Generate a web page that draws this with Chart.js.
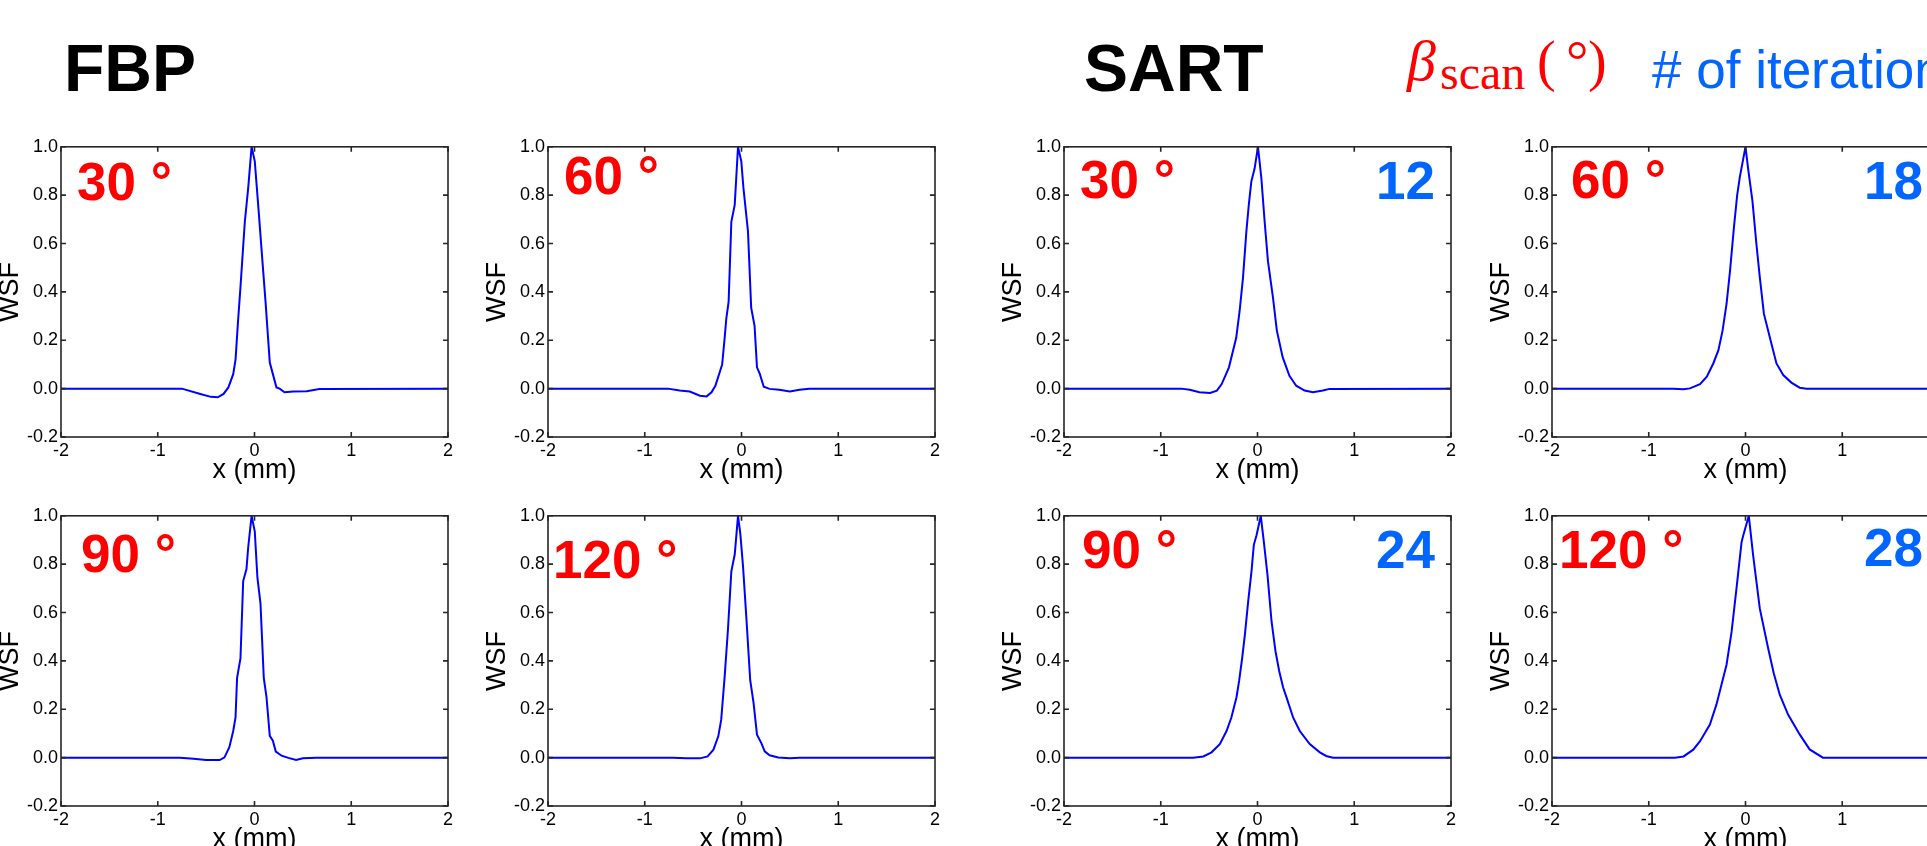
<!DOCTYPE html>
<html lang="en">
<head>
<meta charset="UTF-8">
<title>WSF profiles: FBP vs SART</title>
<script src="https://cdn.jsdelivr.net/npm/chart.js@4"></script>
<style>
    html, body { margin: 0; padding: 0; width: 1927px; height: 846px; overflow: hidden; background: #fff; }
    canvas { position: absolute; }
    .txt { position: absolute; white-space: nowrap; line-height: 1; }
</style>
</head>
<body>
<script>
    // ---- data ----
    const xTickLabels = ['-2', '-1', '0', '1', '2'];
    const yTickLabels = ['-0.2', '0.0', '0.2', '0.4', '0.6', '0.8', '1.0'];
    const scanAngles = ['30 °', '60 °', '90 °', '120 °'];
    const sartIterations = ['12', '18', '24', '28'];

    // FBP
    const fbp30X = [-2, -0.75, -0.56, -0.45, -0.38, -0.32, -0.27, -0.22, -0.196, -0.17, -0.145, -0.10, -0.065, -0.03, 0.003, 0.038, 0.09, 0.114, 0.158, 0.19, 0.227, 0.26, 0.31, 0.40, 0.54, 0.67, 2];
    const fbp30Y = [0, 0, -0.022, -0.034, -0.036, -0.022, 0.005, 0.06, 0.12, 0.28, 0.42, 0.69, 0.83, 1.0, 0.94, 0.76, 0.485, 0.36, 0.108, 0.06, 0.005, 0, -0.015, -0.012, -0.011, -0.002, 0];

    const fbp60X = [-2, -0.76, -0.64, -0.535, -0.43, -0.36, -0.31, -0.27, -0.20, -0.174, -0.157, -0.133, -0.105, -0.07, -0.036, -0.002, 0.02, 0.067, 0.10, 0.135, 0.16, 0.19, 0.23, 0.29, 0.39, 0.50, 0.60, 0.70, 2];
    const fbp60Y = [0, 0, -0.008, -0.012, -0.029, -0.032, -0.015, 0.012, 0.10, 0.21, 0.29, 0.36, 0.69, 0.76, 1.0, 0.94, 0.83, 0.65, 0.335, 0.26, 0.088, 0.06, 0.008, -0.001, -0.005, -0.012, -0.005, 0, 0];

    const fbp90X = [-2, -0.77, -0.63, -0.50, -0.36, -0.31, -0.26, -0.22, -0.196, -0.18, -0.145, -0.117, -0.083, -0.065, -0.03, 0.003, 0.03, 0.062, 0.096, 0.124, 0.158, 0.19, 0.22, 0.28, 0.35, 0.43, 0.50, 0.64, 2];
    const fbp90Y = [0, 0, -0.005, -0.01, -0.01, 0.001, 0.043, 0.11, 0.166, 0.33, 0.41, 0.73, 0.78, 0.87, 1.0, 0.935, 0.745, 0.637, 0.33, 0.25, 0.09, 0.07, 0.025, 0.008, -0.001, -0.01, -0.003, 0, 0];

    const fbp120X = [-2, -0.71, -0.57, -0.43, -0.35, -0.29, -0.24, -0.21, -0.174, -0.14, -0.105, -0.07, -0.036, -0.012, 0.016, 0.05, 0.09, 0.125, 0.16, 0.205, 0.24, 0.29, 0.38, 0.50, 0.60, 2];
    const fbp120Y = [0, 0, -0.003, -0.003, 0.005, 0.033, 0.088, 0.156, 0.335, 0.53, 0.77, 0.84, 1.0, 0.925, 0.79, 0.58, 0.32, 0.225, 0.095, 0.06, 0.026, 0.01, 0.001, -0.003, 0, 0];

    // SART
    const sart30X = [-2, -0.79, -0.70, -0.60, -0.49, -0.42, -0.37, -0.295, -0.22, -0.185, -0.15, -0.115, -0.09, -0.064, -0.03, 0.005, 0.04, 0.074, 0.108, 0.16, 0.20, 0.26, 0.33, 0.40, 0.487, 0.573, 0.676, 0.745, 2];
    const sart30Y = [0, 0, -0.005, -0.015, -0.018, -0.008, 0.019, 0.088, 0.21, 0.32, 0.458, 0.65, 0.76, 0.856, 0.91, 1.0, 0.87, 0.69, 0.527, 0.376, 0.24, 0.13, 0.053, 0.012, -0.008, -0.015, -0.008, -0.001, 0];

    const sart60X = [-2, -0.75, -0.64, -0.575, -0.47, -0.40, -0.333, -0.28, -0.237, -0.196, -0.16, -0.12, -0.086, -0.058, 0, 0.027, 0.072, 0.113, 0.148, 0.19, 0.268, 0.32, 0.39, 0.474, 0.56, 0.63, 2];
    const sart60Y = [0, 0, -0.003, 0.001, 0.018, 0.049, 0.104, 0.159, 0.24, 0.35, 0.487, 0.665, 0.80, 0.877, 1.0, 0.91, 0.775, 0.597, 0.46, 0.31, 0.186, 0.104, 0.056, 0.025, 0.004, 0, 0];

    const sart90X = [-2, -0.665, -0.56, -0.475, -0.39, -0.32, -0.27, -0.217, -0.19, -0.158, -0.13, -0.096, -0.062, -0.038, -0.01, 0.034, 0.065, 0.103, 0.145, 0.186, 0.224, 0.265, 0.30, 0.368, 0.437, 0.54, 0.644, 0.71, 0.78, 2];
    const sart90Y = [0, 0, 0.005, 0.022, 0.056, 0.11, 0.166, 0.25, 0.317, 0.413, 0.51, 0.647, 0.77, 0.88, 0.92, 1.0, 0.894, 0.757, 0.564, 0.44, 0.358, 0.29, 0.249, 0.166, 0.11, 0.056, 0.022, 0.007, 0, 0];

    const sart120X = [-2, -0.73, -0.64, -0.54, -0.47, -0.368, -0.30, -0.196, -0.144, -0.093, -0.041, -0.024, 0.034, 0.079, 0.148, 0.234, 0.292, 0.354, 0.44, 0.56, 0.663, 0.80, 2];
    const sart120Y = [0, 0, 0.005, 0.033, 0.068, 0.137, 0.22, 0.384, 0.52, 0.70, 0.89, 0.918, 1.0, 0.836, 0.616, 0.452, 0.349, 0.26, 0.178, 0.096, 0.034, 0, 0];

    // ---- layout ----
    const SANS = '"Liberation Sans", Arial, sans-serif';
    const SERIF = '"Liberation Serif", "Times New Roman", serif';
    const RED = '#ff0000';
    const BLUE = '#0066ff';
    const PLOT_W = 387, PLOT_H = 292;
    const Y_AXIS_W = 67, X_AXIS_H = 50, PAD_T = 12, PAD_R = 12;
    const colLeft = [61, 548, 1064, 1552];
    const rowTop = [145, 514];

    function placeText(str, x, baseline, size, opts) {
        const d = document.createElement('div');
        d.className = 'txt';
        d.textContent = str;
        d.style.fontFamily = opts.serif ? SERIF : SANS;
        d.style.fontSize = size + 'px';
        d.style.fontWeight = opts.bold ? 'bold' : 'normal';
        d.style.fontStyle = opts.italic ? 'italic' : 'normal';
        d.style.color = opts.color || '#000';
        d.style.top = (baseline - size * (opts.serif ? 0.8375 : 0.8465)) + 'px';
        if (opts.right) {
            d.style.right = (1927 - x) + 'px';
        } else {
            d.style.left = x + 'px';
        }
        document.body.appendChild(d);
    }

    // box + inward tick marks, MATLAB style
    const frameTicks = {
        id: 'frameTicks',
        afterDatasetsDraw(chart) {
            const { ctx, chartArea: a } = chart;
            const sx = chart.scales.x, sy = chart.scales.y;
            const len = 5;
            ctx.save();
            ctx.strokeStyle = '#262626';
            ctx.lineWidth = 1.6;
            ctx.beginPath();
            sx.ticks.forEach(t => {
                const px = sx.getPixelForValue(t.value);
                ctx.moveTo(px, a.bottom); ctx.lineTo(px, a.bottom - len);
                ctx.moveTo(px, a.top); ctx.lineTo(px, a.top + len);
            });
            sy.ticks.forEach(t => {
                const py = sy.getPixelForValue(t.value);
                ctx.moveTo(a.left, py); ctx.lineTo(a.left + len, py);
                ctx.moveTo(a.right, py); ctx.lineTo(a.right - len, py);
            });
            ctx.stroke();
            ctx.strokeRect(a.left, a.top, a.right - a.left, a.bottom - a.top);
            ctx.restore();
        }
    };

    function makeChart(left, top, xs, ys) {
        const W = Y_AXIS_W + PLOT_W + PAD_R;
        const H = PAD_T + PLOT_H + X_AXIS_H;
        const c = document.createElement('canvas');
        c.width = W; c.height = H;
        c.style.width = W + 'px'; c.style.height = H + 'px';
        c.style.left = (left - Y_AXIS_W) + 'px';
        c.style.top = (top - PAD_T) + 'px';
        document.body.appendChild(c);

        const tickFont = { family: SANS, size: 18 };
        const titleFont = { family: SANS, size: 27 };
        return new Chart(c, {
            type: 'line',
            data: {
                datasets: [{
                    data: xs.map((x, i) => ({ x: x, y: ys[i] })),
                    borderColor: '#0000ff',
                    borderWidth: 2,
                    pointRadius: 0,
                    tension: 0,
                    fill: false
                }]
            },
            options: {
                responsive: false,
                animation: false,
                events: [],
                layout: { padding: { top: PAD_T, right: PAD_R, left: 0, bottom: 0 } },
                plugins: { legend: { display: false }, tooltip: { enabled: false } },
                scales: {
                    x: {
                        type: 'linear', min: -2, max: 2,
                        grid: { display: false, drawTicks: false },
                        border: { display: false },
                        ticks: {
                            stepSize: 1, padding: 3, autoSkip: false, maxRotation: 0,
                            color: '#000', font: tickFont,
                            callback: (v, i) => xTickLabels[i]
                        },
                        title: { display: true, text: 'x (mm)', color: '#000', font: titleFont, padding: 0 },
                        afterFit: s => { s.height = X_AXIS_H; }
                    },
                    y: {
                        type: 'linear', min: -0.2, max: 1.0,
                        grid: { display: false, drawTicks: false },
                        border: { display: false },
                        ticks: {
                            stepSize: 0.2, padding: 3, autoSkip: false,
                            color: '#000', font: tickFont,
                            callback: (v, i) => yTickLabels[i]
                        },
                        title: { display: true, text: 'WSF', color: '#000', font: titleFont, padding: 0 },
                        afterFit: s => { s.width = Y_AXIS_W; }
                    }
                }
            },
            plugins: [frameTicks]
        });
    }

    // panels: column, row, data, label positions (ink offsets inside the plot box)
    const panels = [
        { col: 0, row: 0, xs: fbp30X,  ys: fbp30Y,  angle: scanAngles[0], ax: 16, ab: 55 },
        { col: 1, row: 0, xs: fbp60X,  ys: fbp60Y,  angle: scanAngles[1], ax: 16, ab: 49 },
        { col: 0, row: 1, xs: fbp90X,  ys: fbp90Y,  angle: scanAngles[2], ax: 20, ab: 58 },
        { col: 1, row: 1, xs: fbp120X, ys: fbp120Y, angle: scanAngles[3], ax: 5,  ab: 64 },
        { col: 2, row: 0, xs: sart30X,  ys: sart30Y,  angle: scanAngles[0], ax: 16, ab: 53, iter: sartIterations[0], ib: 54 },
        { col: 3, row: 0, xs: sart60X,  ys: sart60Y,  angle: scanAngles[1], ax: 19, ab: 53, iter: sartIterations[1], ib: 54 },
        { col: 2, row: 1, xs: sart90X,  ys: sart90Y,  angle: scanAngles[2], ax: 18, ab: 54, iter: sartIterations[2], ib: 54 },
        { col: 3, row: 1, xs: sart120X, ys: sart120Y, angle: scanAngles[3], ax: 7,  ab: 54, iter: sartIterations[3], ib: 52 }
    ];

    panels.forEach(p => {
        const left = colLeft[p.col], top = rowTop[p.row];
        makeChart(left, top, p.xs, p.ys);
        placeText(p.angle, left + p.ax, top + p.ab, 53, { bold: true, color: RED });
        if (p.iter) {
            placeText(p.iter, left + PLOT_W - 16, top + p.ib, 53, { bold: true, color: BLUE, right: true });
        }
    });

    // headers
    placeText('FBP', 64, 91, 66, { bold: true });
    placeText('SART', 1084, 91, 66, { bold: true });
    placeText('β', 1407, 81, 58, { serif: true, italic: true, color: RED });
    placeText('scan', 1440, 89, 48, { serif: true, color: RED });
    placeText('(', 1537, 80, 56, { serif: true, color: RED });
    placeText('°', 1566, 80, 56, { serif: true, color: RED });
    placeText(')', 1588, 80, 56, { serif: true, color: RED });
    placeText('# of iterations', 1652, 88, 53, { color: BLUE });
</script>
</body>
</html>
